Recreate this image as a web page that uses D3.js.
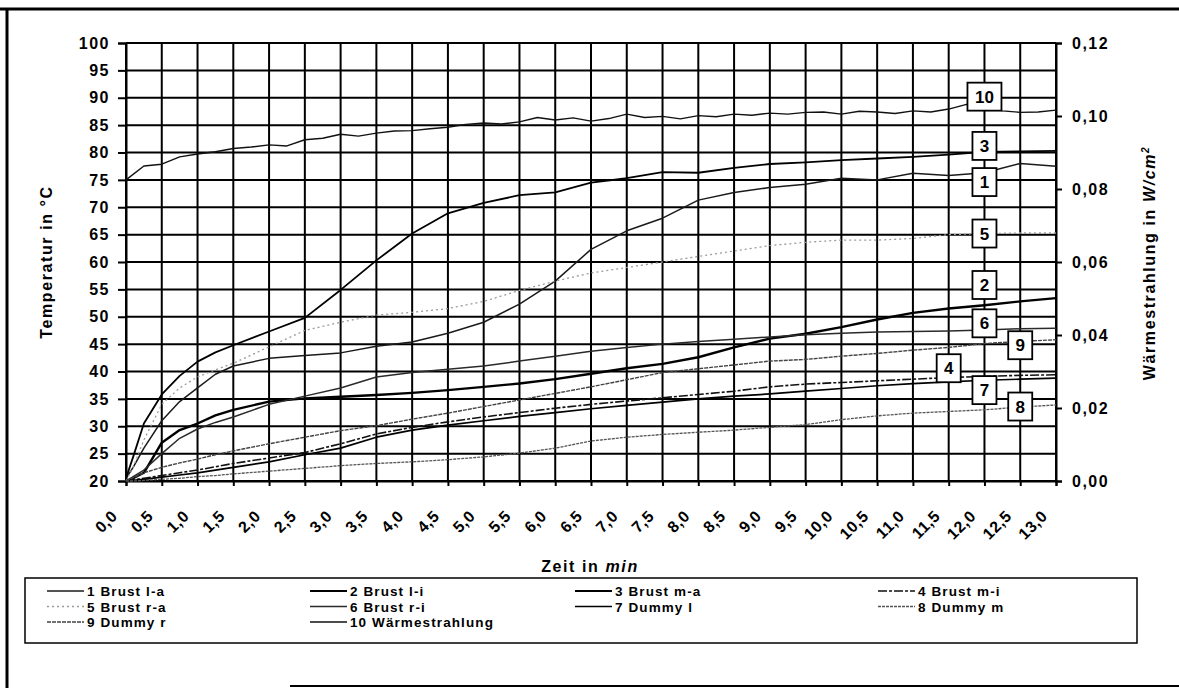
<!DOCTYPE html>
<html>
<head>
<meta charset="utf-8">
<script src="https://cdn.jsdelivr.net/npm/d3@7"></script>
<style>
  body { margin: 0; background: #fff; }
  svg { display: block; font-family: "Liberation Sans", Arial, sans-serif; font-weight: bold; }
</style>
</head>
<body>
<svg id="chart"></svg>
<script>
// time axis (min) shared by the temperature series
const times = [0, 0.1, 0.25, 0.5, 0.75, 1, 1.25, 1.5, 2, 2.5, 3, 3.5, 4, 4.5, 5, 5.5, 6, 6.5, 7, 7.5, 8, 8.5, 9, 9.5, 10, 10.5, 11, 11.5, 12, 12.5, 13];

// temperatures in °C
const brustLa = [20.5, 22.5, 26, 31, 34.5, 37, 39.5, 41, 42.4, 42.9, 43.4, 44.6, 45.4, 47, 49, 52.3, 56.5, 62.3, 65.7, 68, 71.3, 72.7, 73.6, 74.2, 75.3, 75, 76.2, 75.8, 76.3, 78, 77.5];
const brustLi = [20, 20.5, 21.5, 27, 29.3, 30.5, 32, 33, 34.5, 35.1, 35.4, 35.7, 36.1, 36.6, 37.2, 37.8, 38.6, 39.6, 40.6, 41.4, 42.6, 44.4, 46, 46.9, 48.1, 49.5, 50.7, 51.5, 52.1, 52.8, 53.4];
const brustMa = [20.5, 24.4, 30.5, 35.8, 39.2, 41.8, 43.5, 44.8, 47.3, 49.8, 54.9, 60.3, 65.2, 68.9, 70.8, 72.2, 72.7, 74.5, 75.3, 76.4, 76.3, 77.2, 77.9, 78.2, 78.6, 78.9, 79.2, 79.6, 80.1, 80.2, 80.3];
const brustMi = [20, 20.2, 20.5, 21, 21.5, 22, 22.6, 23.2, 24.2, 25.2, 26.8, 28.6, 29.8, 30.8, 31.7, 32.5, 33.3, 34, 34.6, 35.2, 35.8, 36.4, 37.2, 37.7, 38, 38.3, 38.6, 38.9, 39.1, 39.3, 39.4];
const brustRa = [20, 22.5, 27.5, 34, 37, 39, 40.3, 41.5, 44.5, 47.5, 49, 50.3, 50.8, 51.5, 52.8, 54.8, 56.5, 58, 59, 60, 61, 62, 63, 63.6, 64, 64, 64.3, 65, 65.2, 65.3, 65.3];
const brustRi = [20, 20.8, 22, 25, 27.8, 29.5, 30.7, 31.7, 34, 35.5, 37, 39, 39.8, 40.4, 41, 41.9, 42.8, 43.7, 44.4, 45, 45.5, 45.9, 46.3, 46.7, 47, 47.2, 47.3, 47.4, 47.6, 47.8, 47.9];
const dummyL = [20, 20.1, 20.3, 20.7, 21.1, 21.5, 22, 22.5, 23.5, 24.8, 26, 28, 29.3, 30.2, 31, 31.8, 32.5, 33.2, 33.8, 34.4, 35, 35.5, 35.9, 36.4, 36.9, 37.4, 37.8, 38.1, 38.4, 38.6, 38.8];
const dummyM = [20, 20, 20.1, 20.3, 20.5, 20.8, 21, 21.3, 21.8, 22.3, 22.8, 23.2, 23.5, 23.9, 24.4, 25.1, 26, 27.3, 28, 28.5, 28.9, 29.3, 29.8, 30.3, 31.2, 31.9, 32.4, 32.7, 33, 33.5, 33.9];
const dummyR = [20, 20.6, 21.5, 22.5, 23.3, 24, 24.8, 25.5, 26.8, 28, 29.2, 30.1, 31.3, 32.4, 33.6, 34.8, 36, 37.2, 38.5, 39.8, 40.5, 41.2, 41.9, 42.2, 42.8, 43.3, 43.9, 44.4, 45.1, 45.5, 45.8];

// heat radiation in W/cm² (right axis), read every 0.25 min
const radTimes = [0, 0.25, 0.5, 0.75, 1, 1.25, 1.5, 1.75, 2, 2.25, 2.5, 2.75, 3, 3.25, 3.5, 3.75, 4, 4.25, 4.5, 4.75, 5, 5.25, 5.5, 5.75, 6, 6.25, 6.5, 6.75, 7, 7.25, 7.5, 7.75, 8, 8.25, 8.5, 8.75, 9, 9.25, 9.5, 9.75, 10, 10.25, 10.5, 10.75, 11, 11.25, 11.5, 11.75, 12, 12.25, 12.5, 12.75, 13];
const radiation = [0.0825, 0.0863, 0.0868, 0.0888, 0.0896, 0.0902, 0.0911, 0.0915, 0.0921, 0.0918, 0.0935, 0.0939, 0.0950, 0.0945, 0.0953, 0.0959, 0.0960, 0.0965, 0.0969, 0.0977, 0.0981, 0.0978, 0.0984, 0.0996, 0.0989, 0.0995, 0.0986, 0.0993, 0.1005, 0.0996, 0.0999, 0.0992, 0.1001, 0.0998, 0.1005, 0.1002, 0.1008, 0.1005, 0.1010, 0.1011, 0.1005, 0.1013, 0.1011, 0.1007, 0.1014, 0.1011, 0.1019, 0.1032, 0.1028, 0.1014, 0.1010, 0.1011, 0.1016];

const seriesNames = ["1 Brust l-a", "2 Brust l-i", "3 Brust m-a", "4 Brust m-i", "5 Brust r-a", "6 Brust r-i", "7 Dummy l", "8 Dummy m", "9 Dummy r", "10 Wärmestrahlung"];
const tempSeries = [brustLa, brustLi, brustMa, brustMi, brustRa, brustRi, dummyL, dummyM, dummyR];

const yTicks = [20, 25, 30, 35, 40, 45, 50, 55, 60, 65, 70, 75, 80, 85, 90, 95, 100];
const y2Ticks = [0, 0.02, 0.04, 0.06, 0.08, 0.10, 0.12];
const xTicks = d3.range(0, 13.01, 0.5);

// number boxes at the right end of the curves: [label, time, °C]
const tagNums = ["10", "3", "1", "5", "2", "6", "9", "4", "7", "8"];
const tagTimes = [12, 12, 12, 12, 12, 12, 12.5, 11.5, 12, 12.5];
const tagTemps = [90.2, 81.2, 74.6, 65.2, 55.8, 48.8, 44.8, 40.6, 36.6, 33.6];

const width = 1179, height = 688;
const svg = d3.select("#chart").attr("width", width).attr("height", height);

const x = d3.scaleLinear().domain([0, 13]).range([126, 1056]);
const y = d3.scaleLinear().domain([20, 100]).range([481, 43]);
const y2 = d3.scaleLinear().domain([0, 0.12]).range([481, 43]);

const comma = (v, n) => v.toFixed(n).replace(".", ",");

// outer frame (scanned page edge)
svg.append("line").attr("x1", 0).attr("x2", width).attr("y1", 9).attr("y2", 9).attr("stroke", "#000").attr("stroke-width", 3);
svg.append("line").attr("x1", 7).attr("x2", 7).attr("y1", 8).attr("y2", height).attr("stroke", "#000").attr("stroke-width", 3);
svg.append("line").attr("x1", 290).attr("x2", width).attr("y1", 686).attr("y2", 686).attr("stroke", "#000").attr("stroke-width", 2);

// grid
const grid = svg.append("g").attr("stroke", "#000").attr("stroke-width", 2);
grid.selectAll("line.h").data(yTicks).join("line").attr("class", "h")
    .attr("x1", x(0)).attr("x2", x(13)).attr("y1", d => y(d)).attr("y2", d => y(d));
grid.selectAll("line.v").data(xTicks).join("line").attr("class", "v")
    .attr("x1", d => x(d)).attr("x2", d => x(d)).attr("y1", y(100)).attr("y2", y(20));

// axes
const leftAxis = svg.append("g").attr("transform", `translate(${x(0)},0)`)
    .call(d3.axisLeft(y).tickValues(yTicks).tickSize(8).tickPadding(8).tickFormat(d => d));
const rightAxis = svg.append("g").attr("transform", `translate(${x(13)},0)`)
    .call(d3.axisRight(y2).tickValues(y2Ticks).tickSize(6).tickPadding(10).tickFormat(d => comma(d, 2)));
const bottomAxis = svg.append("g").attr("transform", `translate(0,${y(20)})`)
    .call(d3.axisBottom(x).tickValues(xTicks).tickSize(5).tickFormat(d => comma(d, 1)));

[leftAxis, rightAxis, bottomAxis].forEach(a => {
    a.select(".domain").attr("stroke", "#000").attr("stroke-width", 2);
    a.selectAll(".tick line").attr("stroke", "#000").attr("stroke-width", 2);
    a.selectAll("text").attr("fill", "#000").style("font-family", "'Liberation Sans', Arial, sans-serif")
        .style("font-weight", "bold").style("font-size", "16px").style("letter-spacing", "1.5px");
});
bottomAxis.selectAll("text")
    .style("font-size", "16px").style("letter-spacing", "0.5px")
    .attr("text-anchor", "end").attr("x", 0).attr("y", 0).attr("dy", 0)
    .attr("transform", "translate(-8,36) rotate(-45)");

// series lines
const styles = [
    { stroke: "#1a1a1a", w: 1.5, dash: null },
    { stroke: "#000", w: 2.4, dash: null },
    { stroke: "#000", w: 1.8, dash: null },
    { stroke: "#111", w: 1.6, dash: "9,2,3,2" },
    { stroke: "#9a9a9a", w: 1.3, dash: "2,3" },
    { stroke: "#2a2a2a", w: 1.5, dash: null },
    { stroke: "#000", w: 1.7, dash: null },
    { stroke: "#555", w: 1.3, dash: "3,1" },
    { stroke: "#444", w: 1.4, dash: "4,1" },
    { stroke: "#111", w: 1.4, dash: null }
];

const line = d3.line().x(d => x(d[0])).y(d => y(d[1]));
const radLine = d3.line().x(d => x(d[0])).y(d => y2(d[1]));

const lines = svg.append("g").attr("fill", "none").attr("stroke-linejoin", "round");
tempSeries.forEach((vals, i) => {
    lines.append("path")
        .datum(times.map((t, j) => [t, vals[j]]))
        .attr("d", line)
        .attr("stroke", styles[i].stroke)
        .attr("stroke-width", styles[i].w)
        .attr("stroke-dasharray", styles[i].dash);
});
lines.append("path")
    .datum(radTimes.map((t, j) => [t, radiation[j]]))
    .attr("d", radLine)
    .attr("stroke", styles[9].stroke)
    .attr("stroke-width", styles[9].w);

// number boxes
const tags = svg.append("g").selectAll("g").data(tagNums).join("g")
    .attr("transform", (d, i) => `translate(${x(tagTimes[i])},${y(tagTemps[i])})`);
tags.append("rect")
    .attr("x", d => d.length > 1 ? -17 : -12).attr("y", -14)
    .attr("width", d => d.length > 1 ? 34 : 24).attr("height", 28)
    .attr("fill", "#fff").attr("stroke", "#000").attr("stroke-width", 1.8);
tags.append("text").text(d => d)
    .attr("text-anchor", "middle").attr("dy", "0.36em")
    .style("font-size", "17px");

// axis titles
svg.append("text")
    .attr("transform", "translate(52,262) rotate(-90)")
    .attr("text-anchor", "middle")
    .style("font-size", "16px").style("letter-spacing", "1.6px")
    .text("Temperatur in °C");

const rTitle = svg.append("text")
    .attr("transform", "translate(1155,263) rotate(-90)")
    .attr("text-anchor", "middle")
    .style("font-size", "16px").style("letter-spacing", "1.6px");
rTitle.append("tspan").text("Wärmestrahlung in ");
rTitle.append("tspan").style("font-style", "italic").text("W/cm");
rTitle.append("tspan").attr("dy", -6).style("font-size", "10px").style("font-style", "italic").text("2");

const xTitle = svg.append("text")
    .attr("x", 590).attr("y", 572)
    .attr("text-anchor", "middle")
    .style("font-size", "16px").style("letter-spacing", "1.6px");
xTitle.append("tspan").text("Zeit in ");
xTitle.append("tspan").style("font-style", "italic").text("min");

// legend
const legend = svg.append("g");
legend.append("rect").attr("x", 25).attr("y", 578).attr("width", 1112).attr("height", 65)
    .attr("fill", "none").attr("stroke", "#000").attr("stroke-width", 1.5);
const colX = [87, 350, 615, 918];
const rowY = [596, 611.5, 627];
const items = legend.selectAll("g").data(seriesNames).join("g")
    .attr("transform", (d, i) => `translate(${colX[i % 4]},${rowY[Math.floor(i / 4)]})`);
items.append("line")
    .attr("x1", -40).attr("x2", -3).attr("y1", -5).attr("y2", -5)
    .attr("stroke", (d, i) => styles[i].stroke)
    .attr("stroke-width", (d, i) => Math.min(styles[i].w, 2))
    .attr("stroke-dasharray", (d, i) => styles[i].dash);
items.append("text").text(d => d)
    .style("font-size", "13.5px").style("letter-spacing", "1.1px");
</script>
</body>
</html>
